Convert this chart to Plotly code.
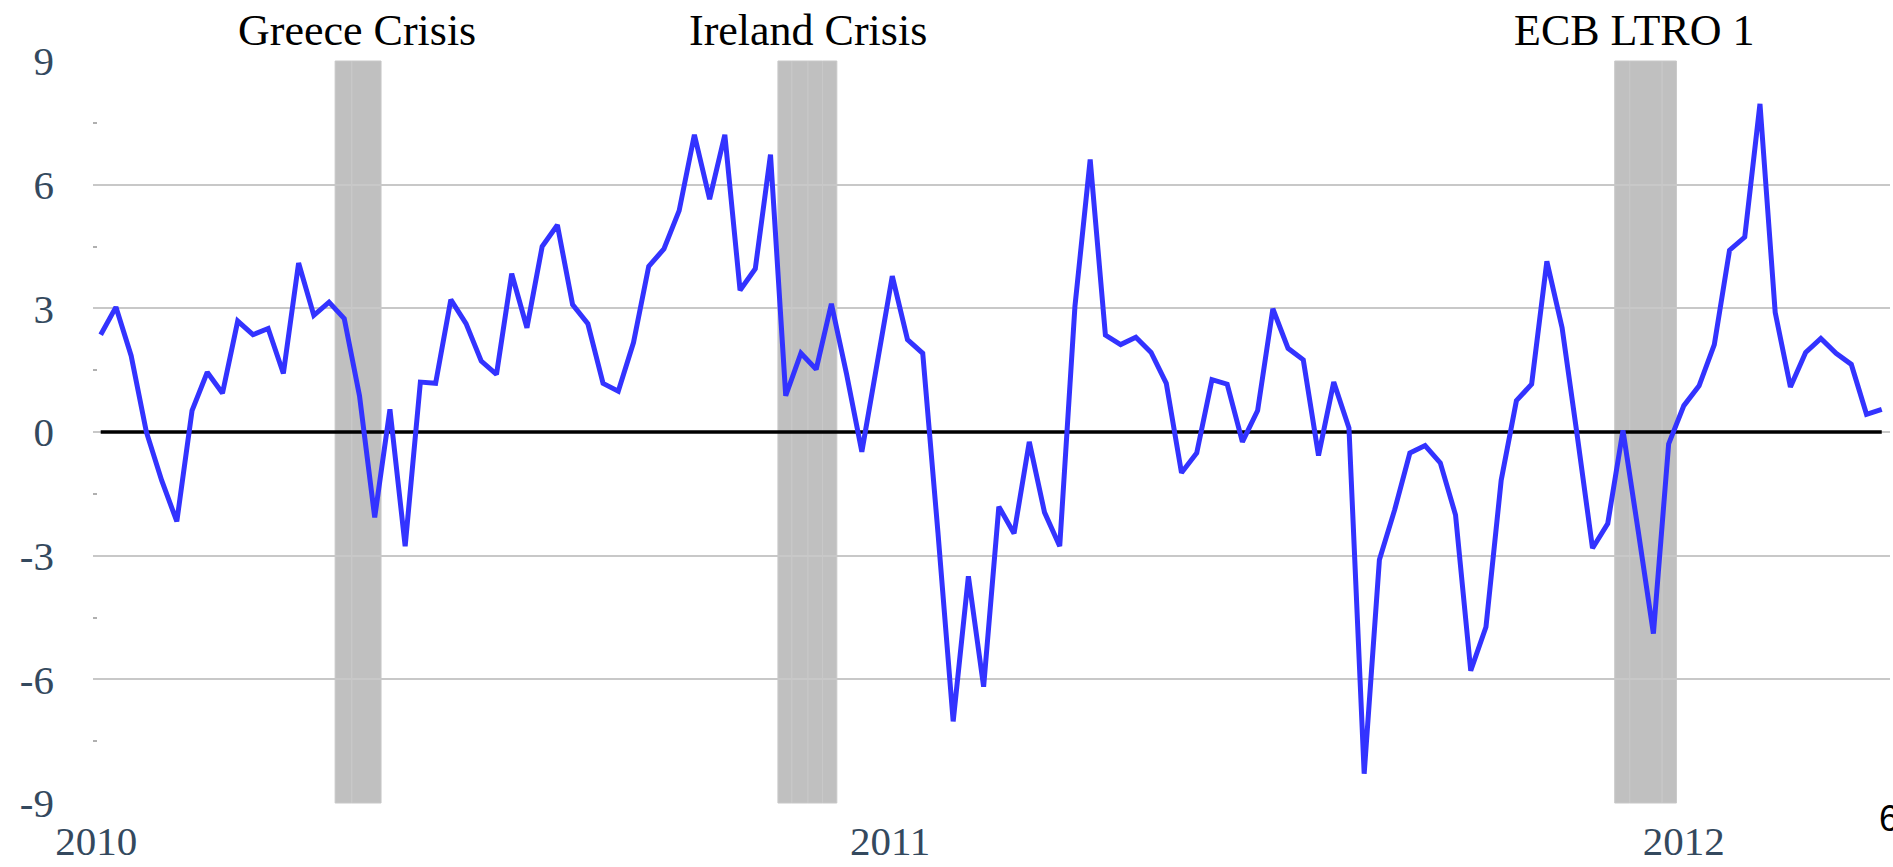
import pandas as pd
import plotly.graph_objects as go

# ---- data ----
start_date = "2010-01-03"
values = [2.36, 3.03, 1.85, 0.0, -1.17, -2.17, 0.52, 1.45, 0.94, 2.69,
          2.36, 2.51, 1.42, 4.10, 2.83, 3.15, 2.75, 0.88, -2.07, 0.55,
          -2.77, 1.21, 1.18, 3.21, 2.63, 1.72, 1.40, 3.84, 2.53, 4.50,
          5.02, 3.09, 2.63, 1.18, 0.99, 2.17, 4.02, 4.44, 5.37, 7.21,
          5.65, 7.21, 3.44, 3.96, 6.73, 0.88, 1.91, 1.52, 3.11, 1.40,
          -0.48, 1.60, 3.78, 2.24, 1.91, -2.44, -7.02, -3.50, -6.18, -1.81,
          -2.46, -0.24, -1.95, -2.77, 3.05, 6.61, 2.35, 2.12, 2.30, 1.93,
          1.18, -0.99, -0.51, 1.27, 1.16, -0.24, 0.52, 2.99, 2.03, 1.75,
          -0.57, 1.21, 0.10, -8.29, -3.10, -1.89, -0.51, -0.33, -0.75, -2.01,
          -5.79, -4.73, -1.17, 0.76, 1.16, 4.14, 2.53, -0.10, -2.82, -2.22,
          0.04, -2.40, -4.89, -0.29, 0.64, 1.12, 2.12, 4.41, 4.73, 7.96,
          2.90, 1.09, 1.93, 2.27, 1.91, 1.64, 0.43, 0.55]
dates = pd.date_range(start_date, periods=len(values), freq="7D")

# crisis shading (sub-periods)
crisis_names = ["Greece Crisis", "Ireland Crisis", "ECB LTRO 1"]
crisis_label_dates = ["2010-05-01", "2010-11-24 10:00", "2011-12-08 22:00"]
crisis_edges = [
    ["2010-04-20 19:00", "2010-04-28 12:00", "2010-05-11 22:00"],
    ["2010-11-10 10:00", "2010-11-16 19:00", "2010-11-24 05:00",
     "2010-11-30 22:00", "2010-12-07 12:00"],
    ["2011-11-30 05:00", "2011-12-07 02:00", "2011-12-22 00:00",
     "2011-12-28 14:00"],
]

y_ticks = [-9, -6, -3, 0, 3, 6, 9]
y_ticktext = ["-9", "-6", "-3", "0", "3", "6", "9"]
y_minor = [-7.5, -4.5, -1.5, 1.5, 4.5, 7.5]
x_ticks = ["2010-01-01", "2011-01-01", "2012-01-01"]
x_ticktext = ["2010", "2011", "2012"]

W, H = 1893, 867
L, R, T, B = 93, 3, 61, 60

fig = go.Figure()

# zero line spanning the data
fig.add_trace(go.Scatter(x=[dates[0], dates[-1]], y=[0, 0], mode="lines",
                         line=dict(color="black", width=3.5),
                         hoverinfo="skip", showlegend=False))
fig.add_trace(go.Scatter(x=dates, y=values, mode="lines",
                         line=dict(color="#3333ff", width=5),
                         showlegend=False))

for edges in crisis_edges:
    for a, b in zip(edges[:-1], edges[1:]):
        fig.add_shape(type="rect", xref="x", yref="paper", x0=a, x1=b,
                      y0=0, y1=1, fillcolor="#c0c0c0",
                      line=dict(color="#c8c8c8", width=1), layer="between")

for name, d in zip(crisis_names, crisis_label_dates):
    fig.add_annotation(x=d, xref="x", y=1.0416, yref="paper", text=name,
                       showarrow=False, xanchor="center", yanchor="middle",
                       font=dict(family="Liberation Serif", size=44,
                                 color="black"))

fig.add_annotation(x=0.9925, xref="paper", y=-0.021, yref="paper", text="6",
                   showarrow=False, xanchor="left", yanchor="middle",
                   font=dict(family="Liberation Sans", size=36, color="black"))

fig.update_layout(
    width=W, height=H,
    margin=dict(l=L, r=R, t=T, b=B),
    paper_bgcolor="white", plot_bgcolor="white",
    showlegend=False,
)
fig.update_xaxes(
    type="date",
    range=["2009-12-30 11:00", "2012-04-04 19:00"],
    tickmode="array", tickvals=x_ticks, ticktext=x_ticktext,
    showgrid=False, zeroline=False, showline=False, ticks="",
    tickfont=dict(family="Liberation Serif", size=41, color="#34495e"),
    ticklabelstandoff=10,
)
fig.update_yaxes(
    range=[-9, 9],
    tickmode="array", tickvals=y_ticks, ticktext=y_ticktext,
    showgrid=True, gridcolor="#c8c8c8", gridwidth=1.5,
    zeroline=False, showline=False, ticks="",
    tickfont=dict(family="Liberation Serif", size=41, color="#34495e"),
    ticklabelstandoff=38,
    minor=dict(tickmode="array", tickvals=y_minor, ticks="inside",
               ticklen=4, tickwidth=1.5, tickcolor="#b0b0b0", showgrid=False),
)

fig.write_html("out.html", config={"displayModeBar": False},
               post_script="document.body.style.margin='0';document.body.style.overflow='hidden';")
